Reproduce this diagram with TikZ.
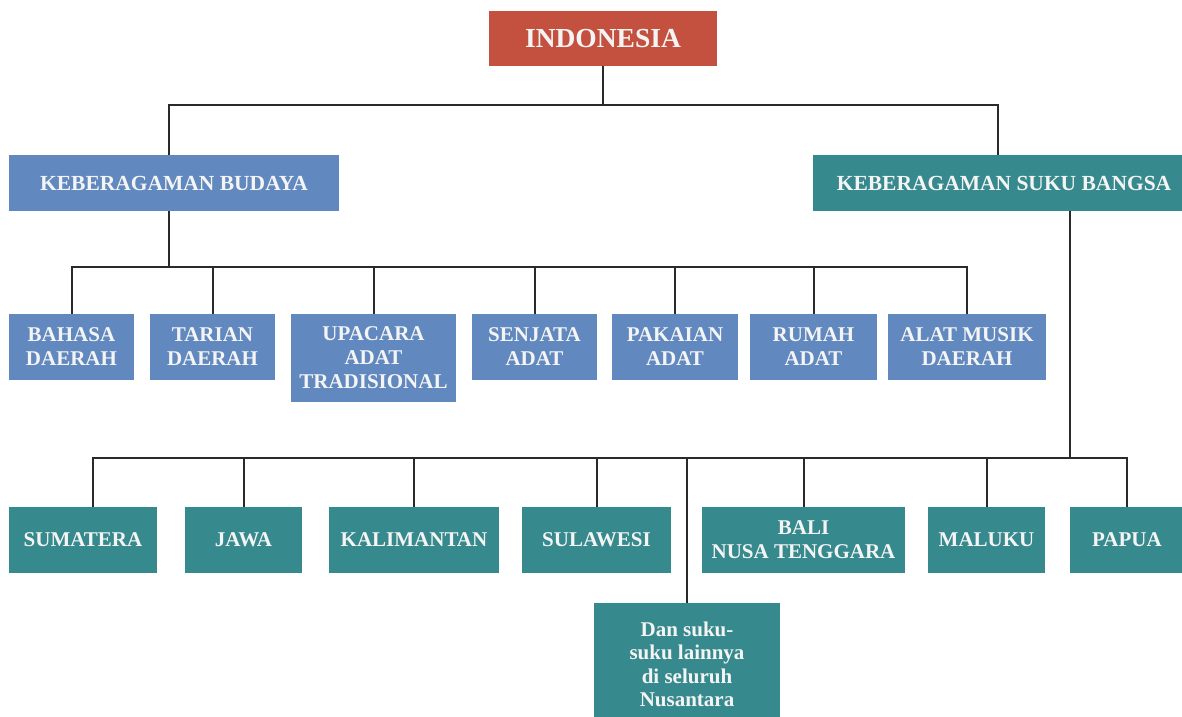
\documentclass[tikz,border=0pt]{standalone}
\usepackage{fontspec}
\setmainfont{Liberation Serif}
\definecolor{rootred}{HTML}{C4503F}
\definecolor{cultblue}{HTML}{6189BF}
\definecolor{tribeteal}{HTML}{368A8D}
\definecolor{linkgray}{HTML}{2A2A2A}
\definecolor{boxtext}{HTML}{F4F4F4}
\tikzset{
  box/.style={inner sep=0pt, text=boxtext, align=center, anchor=center},
  rootbox/.style={box, fill=rootred, font=\fontsize{27.5}{30}\selectfont\bfseries},
  headbox/.style={box, font=\fontsize{21.5}{24}\selectfont\bfseries},
  leafbox/.style={box, font=\fontsize{21}{24}\selectfont\bfseries},
  link/.style={draw=linkgray, line width=2pt}
}
\begin{document}
\begin{tikzpicture}[x=1pt, y=-1pt]
\useasboundingbox (0,0) rectangle (1182,716);
\fill[white] (0,0) rectangle (1182,716);

% root
\node[rootbox, minimum width=228, minimum height=55] (indo) at (603,38.5) {INDONESIA};

% first level
\node[headbox, fill=cultblue, minimum width=330, minimum height=56] (budaya) at (174,183) {KEBERAGAMAN BUDAYA};
\node[headbox, fill=tribeteal, minimum width=382, minimum height=56] (suku) at (1004,183) {KEBERAGAMAN SUKU BANGSA};

% cultural elements
\tikzset{cult/.style={leafbox, fill=cultblue, minimum height=66}}
\node[cult, minimum width=125] (bahasa) at (71.5,347) {BAHASA\\DAERAH};
\node[cult, minimum width=125] (tarian) at (212.5,347) {TARIAN\\DAERAH};
\node[cult, minimum width=165, minimum height=88] (upacara) at (373.5,358) {UPACARA\\ADAT\\TRADISIONAL};
\node[cult, minimum width=125] (senjata) at (534.5,347) {SENJATA\\ADAT};
\node[cult, minimum width=126] (pakaian) at (675,347) {PAKAIAN\\ADAT};
\node[cult, minimum width=127] (rumah) at (813.5,347) {RUMAH\\ADAT};
\node[cult, minimum width=158] (musik) at (967,347) {ALAT MUSIK\\DAERAH};

% ethnic regions
\tikzset{tribe/.style={leafbox, fill=tribeteal, minimum height=66}}
\node[tribe, minimum width=148] (sumatera) at (83,540) {SUMATERA};
\node[tribe, minimum width=117] (jawa) at (243.5,540) {JAWA};
\node[tribe, minimum width=170] (kalimantan) at (414,540) {KALIMANTAN};
\node[tribe, minimum width=149] (sulawesi) at (596.5,540) {SULAWESI};
\node[tribe, minimum width=203] (bali) at (803.5,540) {BALI\\NUSA TENGGARA};
\node[tribe, minimum width=117] (maluku) at (986.5,540) {MALUKU};
\node[tribe, minimum width=114] (papua) at (1127,540) {PAPUA};
\node[tribe, minimum width=186, minimum height=123,
      font=\fontsize{21}{23.5}\selectfont\bfseries] (lain) at (687,664.5)
      {Dan suku-\\suku lainnya\\di seluruh\\Nusantara};

% bus junctions
\coordinate (hub1) at (603,105);
\coordinate (hub2) at (169,267);
\coordinate (hub3) at (1070,458);

% connectors
\draw[link] (indo.south) -- (hub1);
\draw[link] (budaya.north -| hub2) |- (hub1);
\draw[link] ([xshift=-6]suku.north) |- (hub1);

\draw[link] (budaya.south -| hub2) -- (hub2);
\foreach \n in {bahasa,tarian,upacara,senjata,pakaian,rumah,musik}
  \draw[link] (\n.north) |- (hub2);

\draw[link] (suku.south -| hub3) -- (hub3);
\draw[link] ([xshift=10]sumatera.north) |- (hub3);
\foreach \n in {jawa,kalimantan,sulawesi,lain,bali,maluku,papua}
  \draw[link] (\n.north) |- (hub3);
\end{tikzpicture}
\end{document}
